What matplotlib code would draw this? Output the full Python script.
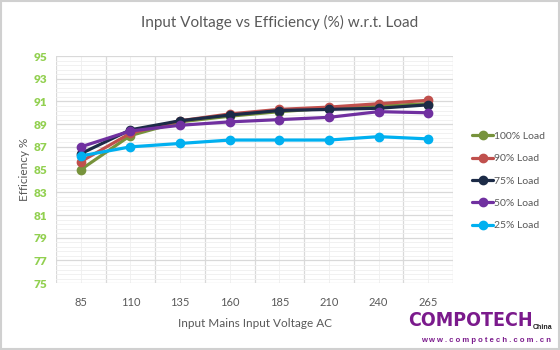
import numpy as np
import matplotlib.pyplot as plt
from matplotlib.patches import Rectangle

# data
voltages = ['85', '110', '135', '160', '185', '210', '240', '265']
load_100 = [85.0, 88.0, 89.2, 89.7, 90.1, 90.4, 90.6, 90.8]
load_90 = [85.7, 88.2, 89.3, 89.9, 90.3, 90.5, 90.8, 91.1]
load_75 = [86.4, 88.5, 89.3, 89.8, 90.2, 90.3, 90.4, 90.7]
load_50 = [87.0, 88.4, 88.9, 89.2, 89.4, 89.6, 90.1, 90.0]
load_25 = [86.2, 87.0, 87.3, 87.6, 87.6, 87.6, 87.9, 87.7]

series = [
    ('100% Load', load_100, '#77933C'),
    ('90% Load', load_90, '#C0504D'),
    ('75% Load', load_75, '#1C2B47'),
    ('50% Load', load_50, '#7030A0'),
    ('25% Load', load_25, '#00B0F0'),
]

FONT = ['Lato', 'DejaVu Sans']
GRAY = '#595959'

fig = plt.figure(figsize=(5.6, 3.5), dpi=100)
ax = fig.add_axes([0.1, 0.191, 0.709, 0.649])

x = np.arange(len(voltages))
for name, vals, col in series:
    ax.plot(x, vals, color=col, lw=2.3, marker='o', ms=6, label=name,
            solid_capstyle='round')

ax.set_xlim(-0.5, len(voltages) - 0.5)
ax.set_ylim(75, 95)
ax.set_xticks(x)
ax.set_xticklabels(voltages, family=FONT, fontsize=8, color=GRAY)
ax.set_xticks(np.arange(-0.5, len(voltages), 1), minor=True)
ax.set_yticks(np.arange(75, 96, 2))
ax.set_yticks(np.arange(75, 95.01, 0.4), minor=True)
for lab in ax.get_yticklabels():
    lab.set_family(FONT)
    lab.set_fontsize(8.5)
    lab.set_fontweight('heavy')
    lab.set_color('#92D050')
ax.tick_params(which='both', length=0)
ax.tick_params(axis='x', pad=10)
ax.tick_params(axis='y', pad=6)

ax.grid(axis='y', which='major', color='#D9D9D9', lw=0.9)
ax.grid(axis='y', which='minor', color='#EFEFEF', lw=0.6)
ax.grid(axis='x', which='minor', color='#D9D9D9', lw=0.9)
ax.grid(axis='x', which='major', color='#EFEFEF', lw=0.6)
ax.set_axisbelow(True)
for s in ax.spines.values():
    s.set_visible(False)

ax.set_xlabel('Input Mains Input Voltage AC', family=FONT, fontsize=8.5,
              color=GRAY, labelpad=7)
ax.set_ylabel('Efficiency %', family=FONT, fontsize=8.5, color=GRAY,
              labelpad=3)
fig.text(0.5, 0.935, 'Input Voltage vs Efficiency (%) w.r.t. Load',
         family=FONT, fontsize=11, color=GRAY, ha='center', va='center')

leg = ax.legend(loc='center left', bbox_to_anchor=(1.025, 0.45), frameon=False,
                labelspacing=1.25, handlelength=2.0, handletextpad=0.1,
                prop={'family': FONT, 'size': 7.5})
for t in leg.get_texts():
    t.set_color(GRAY)

# logo
fig.text(0.951, 0.085, 'COMPOTECH', family=['DejaVu Sans'], fontstretch='condensed',
         fontsize=14, fontweight='bold', color='#7B1A8C', ha='right', va='center')
fig.text(0.952, 0.065, 'China', family=['Liberation Sans', 'DejaVu Sans'],
         fontsize=5, fontweight='bold', color='#222222', ha='left', va='center')
fig.text(0.752, 0.027, 'w w w . c o m p o t e c h . c o m . c n',
         family=['Liberation Sans', 'DejaVu Sans'], fontsize=5.5,
         fontweight='bold', color='#7B1A8C', ha='left', va='center')

fig.patches.append(Rectangle((0.002, 0.003), 0.996, 0.994, transform=fig.transFigure,
                             fill=False, ec='#D0D0D0', lw=1.5))

fig.savefig('out.png', dpi=100)
